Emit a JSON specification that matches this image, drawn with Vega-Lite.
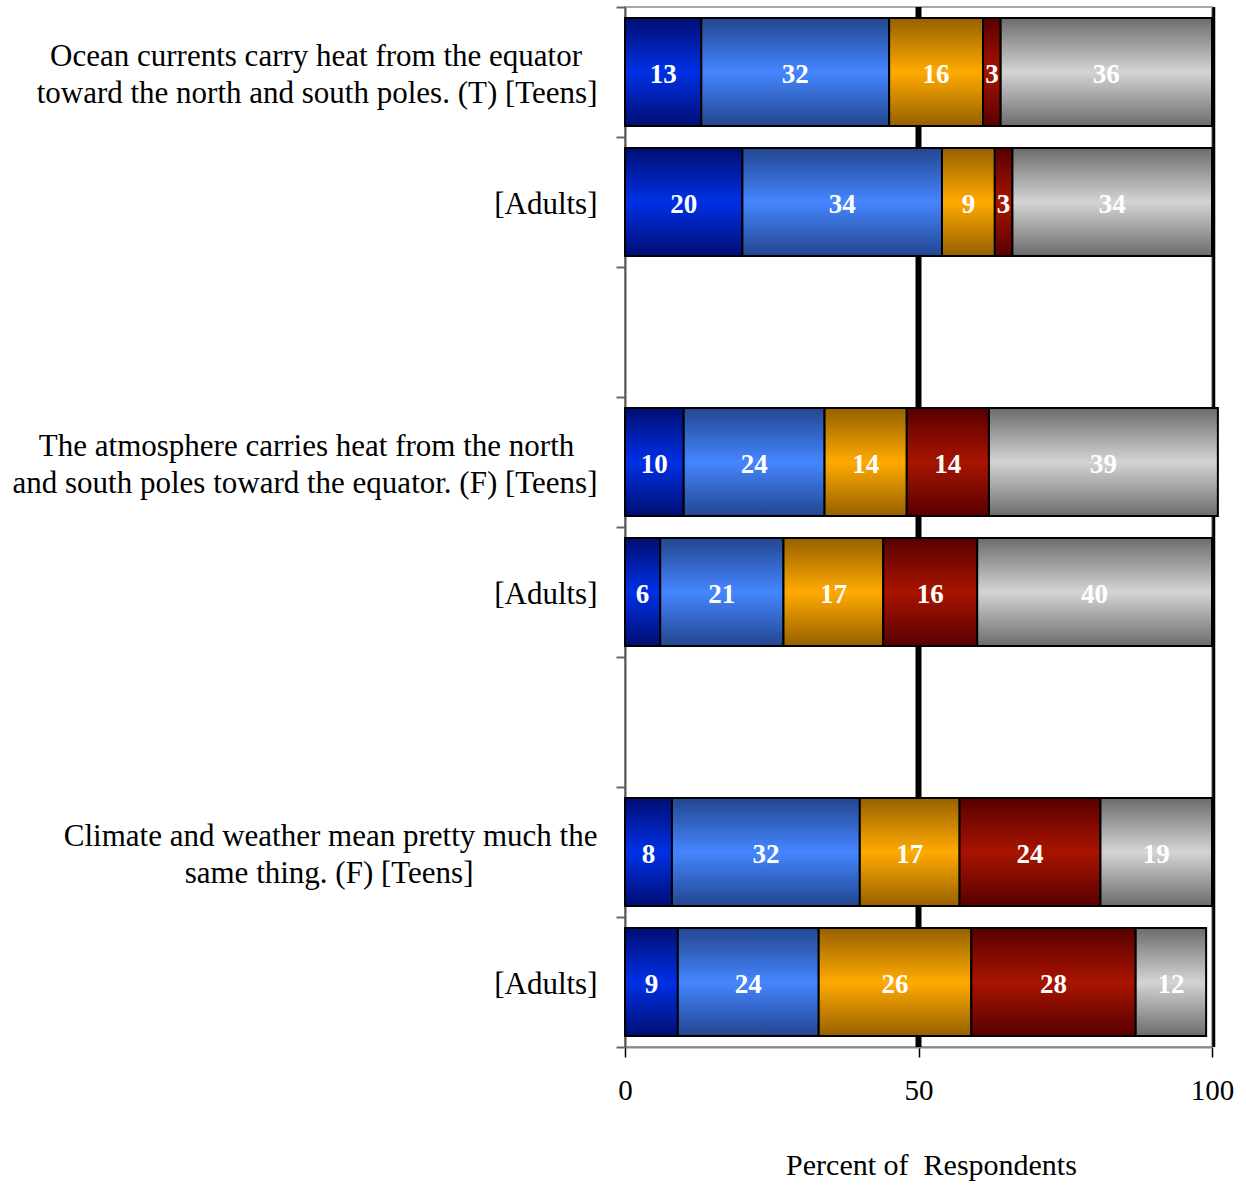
{
  "$schema": "https://vega.github.io/schema/vega-lite/v6.json",
  "width": 587,
  "height": 1040,
  "autosize": {"type": "none"},
  "padding": {"left": 625, "top": 7, "right": 34, "bottom": 138},
  "config": {
    "font": "Liberation Serif",
    "view": {"stroke": "#a8a8a8", "strokeWidth": 2}
  },
  "data": {
    "values": [
      {"row": "ocean-teens", "k": 1, "cat": "Definitely true", "v": 13},
      {"row": "ocean-teens", "k": 2, "cat": "Probably true", "v": 32},
      {"row": "ocean-teens", "k": 3, "cat": "Probably false", "v": 16},
      {"row": "ocean-teens", "k": 4, "cat": "Definitely false", "v": 3},
      {"row": "ocean-teens", "k": 5, "cat": "Don't know", "v": 36},
      {"row": "ocean-adults", "k": 1, "cat": "Definitely true", "v": 20},
      {"row": "ocean-adults", "k": 2, "cat": "Probably true", "v": 34},
      {"row": "ocean-adults", "k": 3, "cat": "Probably false", "v": 9},
      {"row": "ocean-adults", "k": 4, "cat": "Definitely false", "v": 3},
      {"row": "ocean-adults", "k": 5, "cat": "Don't know", "v": 34},
      {"row": "atmos-teens", "k": 1, "cat": "Definitely true", "v": 10},
      {"row": "atmos-teens", "k": 2, "cat": "Probably true", "v": 24},
      {"row": "atmos-teens", "k": 3, "cat": "Probably false", "v": 14},
      {"row": "atmos-teens", "k": 4, "cat": "Definitely false", "v": 14},
      {"row": "atmos-teens", "k": 5, "cat": "Don't know", "v": 39},
      {"row": "atmos-adults", "k": 1, "cat": "Definitely true", "v": 6},
      {"row": "atmos-adults", "k": 2, "cat": "Probably true", "v": 21},
      {"row": "atmos-adults", "k": 3, "cat": "Probably false", "v": 17},
      {"row": "atmos-adults", "k": 4, "cat": "Definitely false", "v": 16},
      {"row": "atmos-adults", "k": 5, "cat": "Don't know", "v": 40},
      {"row": "climate-teens", "k": 1, "cat": "Definitely true", "v": 8},
      {"row": "climate-teens", "k": 2, "cat": "Probably true", "v": 32},
      {"row": "climate-teens", "k": 3, "cat": "Probably false", "v": 17},
      {"row": "climate-teens", "k": 4, "cat": "Definitely false", "v": 24},
      {"row": "climate-teens", "k": 5, "cat": "Don't know", "v": 19},
      {"row": "climate-adults", "k": 1, "cat": "Definitely true", "v": 9},
      {"row": "climate-adults", "k": 2, "cat": "Probably true", "v": 24},
      {"row": "climate-adults", "k": 3, "cat": "Probably false", "v": 26},
      {"row": "climate-adults", "k": 4, "cat": "Definitely false", "v": 28},
      {"row": "climate-adults", "k": 5, "cat": "Don't know", "v": 12}
    ]
  },
  "resolve": {"axis": {"y": "independent"}},
  "layer": [
    {
      "data": {"values": [{}]},
      "mark": {"type": "rule", "color": "black", "strokeWidth": 6},
      "encoding": {"x": {"datum": 50, "type": "quantitative"}}
    },
    {
      "data": {"values": [{}]},
      "mark": {"type": "rule", "color": "black", "strokeWidth": 3},
      "encoding": {"x": {"datum": 100.3, "type": "quantitative"}}
    },
    {
      "mark": {"type": "bar", "stroke": "black", "strokeWidth": 2, "size": 108},
      "encoding": {
        "y": {
          "field": "row",
          "type": "nominal",
          "scale": {
            "domain": ["ocean-teens", "ocean-adults", "gap-1", "atmos-teens", "atmos-adults", "gap-2", "climate-teens", "climate-adults"],
            "paddingInner": 0,
            "paddingOuter": 0
          },
          "axis": {
            "orient": "left",
            "title": null,
            "tickBand": "extent",
            "domainColor": "#555555",
            "domainWidth": 2,
            "tickColor": "#666666",
            "tickWidth": 2,
            "tickSize": 9,
            "labelAlign": "right",
            "labelBaseline": "middle",
            "labelOffset": -15.5,
            "labelPadding": 19,
            "labelFontSize": 31,
            "labelLineHeight": 37,
            "labelColor": "black",
            "labelLimit": 800,
            "labelExpr": "{'ocean-teens': ['Ocean currents carry heat from the equator\u00a0\u00a0\u200b', 'toward the north and south poles. (T) [Teens]'], 'atmos-teens': ['The atmosphere carries heat from the north\u00a0\u00a0\u00a0\u200b', 'and south poles toward the equator. (F) [Teens]'], 'climate-teens': ['Climate and weather mean pretty much the', 'same thing. (F) [Teens]\u00a0\u00a0\u00a0\u00a0\u00a0\u00a0\u00a0\u00a0\u00a0\u00a0\u00a0\u00a0\u00a0\u00a0\u00a0\u00a0\u200b']}[datum.value] || ''"
          }
        },
        "x": {
          "field": "v",
          "type": "quantitative",
          "stack": "zero",
          "scale": {"domain": [0, 100], "nice": false},
          "axis": {
            "values": [0, 50, 100],
            "grid": false,
            "domainColor": "#888888",
            "domainWidth": 2,
            "tickColor": "black",
            "tickWidth": 1.5,
            "tickSize": 10,
            "labelFontSize": 29,
            "labelColor": "black",
            "labelPadding": 19,
            "labelFlush": false,
            "title": "Percent of\u00a0 Respondents",
            "titleFontSize": 30,
            "titleFontWeight": "normal",
            "titleColor": "black",
            "titleX": 306,
            "titlePadding": 45
          }
        },
        "detail": {"field": "cat"},
        "order": {"field": "k"},
        "color": {
          "condition": [
            {"test": "datum.k === 1", "value": {"gradient": "linear", "x1": 0, "y1": 0, "x2": 0, "y2": 1, "stops": [{"offset": 0, "color": "#000e72"}, {"offset": 0.5, "color": "#0030e6"}, {"offset": 1, "color": "#000e72"}]}},
            {"test": "datum.k === 2", "value": {"gradient": "linear", "x1": 0, "y1": 0, "x2": 0, "y2": 1, "stops": [{"offset": 0, "color": "#234690"}, {"offset": 0.5, "color": "#4586ff"}, {"offset": 1, "color": "#234690"}]}},
            {"test": "datum.k === 3", "value": {"gradient": "linear", "x1": 0, "y1": 0, "x2": 0, "y2": 1, "stops": [{"offset": 0, "color": "#966000"}, {"offset": 0.5, "color": "#ffaa00"}, {"offset": 1, "color": "#966000"}]}},
            {"test": "datum.k === 4", "value": {"gradient": "linear", "x1": 0, "y1": 0, "x2": 0, "y2": 1, "stops": [{"offset": 0, "color": "#580000"}, {"offset": 0.5, "color": "#a81400"}, {"offset": 1, "color": "#580000"}]}}
          ],
          "value": {"gradient": "linear", "x1": 0, "y1": 0, "x2": 0, "y2": 1, "stops": [{"offset": 0, "color": "#6c6c6c"}, {"offset": 0.5, "color": "#d4d4d4"}, {"offset": 1, "color": "#6c6c6c"}]}
        }
      }
    },
    {
      "mark": {"type": "text", "color": "white", "fontWeight": "bold", "fontSize": 27, "baseline": "middle", "dy": 3},
      "encoding": {
        "y": {
          "field": "row",
          "type": "nominal",
          "axis": {
            "orient": "left",
            "title": null,
            "domain": false,
            "tickSize": 9,
            "tickOpacity": 0,
            "labelAlign": "right",
            "labelBaseline": "middle",
            "labelOffset": 3,
            "labelPadding": 19,
            "labelFontSize": 31,
            "labelColor": "black",
            "labelLimit": 800,
            "labelExpr": "indexof(datum.value, 'adults') >= 0 ? '[Adults]' : ''"
          }
        },
        "x": {"field": "v", "type": "quantitative", "stack": "zero", "bandPosition": 0.5},
        "detail": {"field": "cat"},
        "order": {"field": "k"},
        "text": {"field": "v", "type": "quantitative"}
      }
    }
  ]
}
